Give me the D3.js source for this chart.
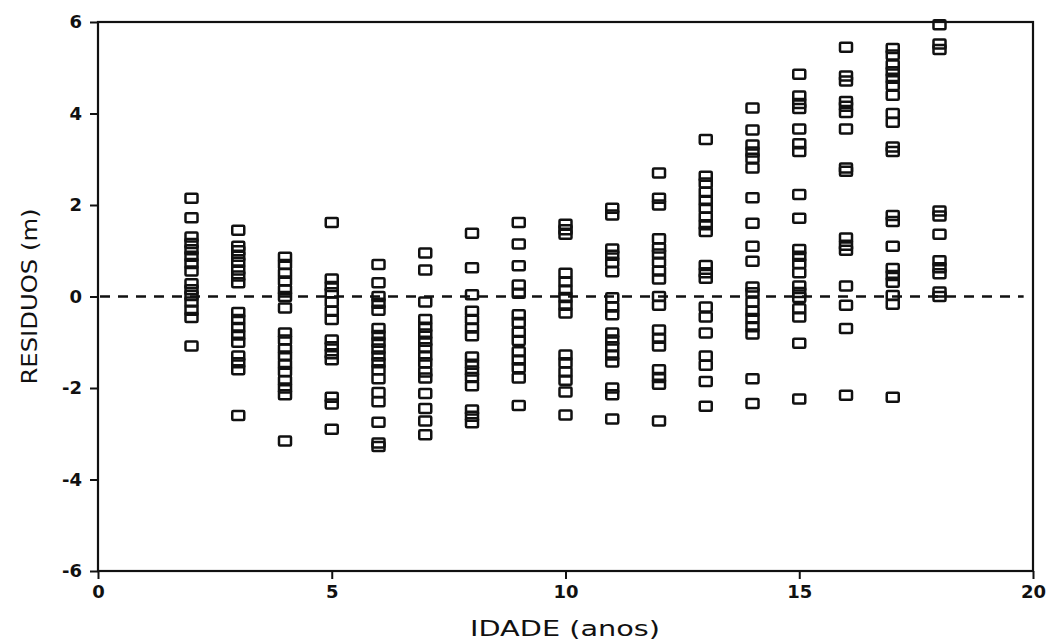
<!DOCTYPE html>
<html>
<head>
<meta charset="utf-8">
<script src="https://cdn.jsdelivr.net/npm/d3@7/dist/d3.min.js"></script>
<style>
  html, body { margin: 0; padding: 0; background: #fff; }
  svg { display: block; }
</style>
</head>
<body>
<svg id="chart" width="1050" height="642"></svg>
<script>
// idade (anos) de cada coluna de pontos
const ages = [2, 3, 4, 5, 6, 7, 8, 9, 10, 11, 12, 13, 14, 15, 16, 17, 18];

// residuos (m), uma lista por idade
const res2  = [2.15, 1.72, 1.30, 1.16, 1.02, 0.88, 0.72, 0.56, 0.28, 0.15, 0.02, -0.12, -0.30, -0.46, -1.08];
const res3  = [1.45, 1.10, 1.00, 0.88, 0.75, 0.58, 0.45, 0.30, -0.35, -0.50, -0.68, -0.84, -1.00, -1.30, -1.45, -1.60, -2.60];
const res4  = [0.86, 0.70, 0.51, 0.34, 0.15, 0.00, -0.25, -0.80, -0.95, -1.14, -1.30, -1.48, -1.64, -1.84, -2.00, -2.15, -3.16];
const res5  = [1.62, 0.38, 0.22, 0.08, -0.12, -0.32, -0.50, -0.95, -1.10, -1.25, -1.38, -2.20, -2.35, -2.90];
const res6  = [0.70, 0.30, 0.00, -0.15, -0.30, -0.70, -0.85, -1.00, -1.15, -1.30, -1.45, -1.60, -1.80, -2.10, -2.30, -2.75, -3.20, -3.28];
const res7  = [0.95, 0.58, -0.12, -0.50, -0.67, -0.82, -0.98, -1.12, -1.30, -1.45, -1.65, -1.78, -2.12, -2.45, -2.72, -3.02];
const res8  = [1.38, 0.63, 0.04, -0.32, -0.50, -0.69, -0.86, -1.32, -1.48, -1.63, -1.77, -1.95, -2.48, -2.62, -2.76];
const res9  = [1.62, 1.15, 0.67, 0.25, 0.07, -0.40, -0.57, -0.78, -0.96, -1.21, -1.39, -1.56, -1.78, -2.38];
const res10 = [1.58, 1.46, 1.36, 0.51, 0.32, 0.14, -0.02, -0.19, -0.36, -1.28, -1.45, -1.65, -1.83, -2.09, -2.59];
const res11 = [1.93, 1.78, 1.04, 0.90, 0.75, 0.54, -0.03, -0.23, -0.40, -0.80, -0.95, -1.10, -1.28, -1.43, -2.00, -2.15, -2.68];
const res12 = [2.70, 2.15, 2.00, 1.26, 1.06, 0.93, 0.75, 0.56, 0.38, 0.00, -0.19, -0.73, -0.91, -1.08, -1.60, -1.77, -1.92, -2.72];
const res13 = [3.43, 2.63, 2.48, 2.28, 2.10, 1.93, 1.74, 1.57, 1.42, 0.68, 0.52, 0.40, -0.23, -0.45, -0.80, -1.30, -1.50, -1.86, -2.40];
const res14 = [4.12, 3.64, 3.31, 3.16, 3.02, 2.81, 2.16, 1.60, 1.10, 0.77, 0.21, 0.08, -0.12, -0.32, -0.48, -0.66, -0.82, -1.80, -2.34];
const res15 = [4.86, 4.38, 4.22, 4.11, 3.66, 3.34, 3.17, 2.23, 1.71, 1.03, 0.88, 0.72, 0.52, 0.23, 0.09, -0.02, -0.27, -0.45, -1.02, -2.24];
const res16 = [5.45, 4.82, 4.71, 4.26, 4.16, 4.02, 3.66, 2.81, 2.74, 1.28, 1.12, 1.01, 0.23, -0.19, -0.70, -2.16];
const res17 = [5.42, 5.28, 5.06, 4.91, 4.77, 4.61, 4.40, 4.00, 3.81, 3.27, 3.17, 1.77, 1.64, 1.10, 0.61, 0.46, 0.31, 0.02, -0.17, -2.20];
const res18 = [5.94, 5.52, 5.40, 1.87, 1.76, 1.36, 0.78, 0.63, 0.50, 0.10, 0.00];

const residuals = [res2, res3, res4, res5, res6, res7, res8, res9, res10,
                   res11, res12, res13, res14, res15, res16, res17, res18];

const xTicks = [0, 5, 10, 15, 20];
const yTicks = [-6, -4, -2, 0, 2, 4, 6];

// plot box (pixels)
const boxLeft = 98, boxRight = 1033, boxTop = 22, boxBottom = 571;

const svg = d3.select("#chart");

const x = d3.scaleLinear().domain([0, 20]).range([boxLeft, boxRight]);
const y = d3.scaleLinear().domain([-6, 6]).range([boxBottom, boxTop]);

// flatten into points
const points = [];
ages.forEach(function(a, i) {
  residuals[i].forEach(function(r) { points.push({ age: a, res: r }); });
});

// frame
svg.append("rect")
  .attr("x", boxLeft).attr("y", boxTop)
  .attr("width", boxRight - boxLeft).attr("height", boxBottom - boxTop)
  .attr("fill", "none")
  .attr("stroke", "#111")
  .attr("stroke-width", 2.2);

// zero reference line
svg.append("line")
  .attr("x1", x(0) + 2).attr("x2", x(19.8))
  .attr("y1", y(0)).attr("y2", y(0))
  .attr("stroke", "#111")
  .attr("stroke-width", 2.6)
  .attr("stroke-dasharray", "10,8");

// axes
const xAxis = d3.axisBottom(x).tickValues(xTicks).tickSize(8).tickPadding(6)
  .tickFormat(d3.format("d"));
const yAxis = d3.axisLeft(y).tickValues(yTicks).tickSize(8).tickPadding(8)
  .tickFormat(function(d) { return d < 0 ? "-" + Math.abs(d) : d; });

const gx = svg.append("g").attr("transform", "translate(0," + boxBottom + ")").call(xAxis);
const gy = svg.append("g").attr("transform", "translate(" + boxLeft + ",0)").call(yAxis);

[gx, gy].forEach(function(g) {
  g.select(".domain").remove();
  g.selectAll(".tick line").attr("stroke", "#111").attr("stroke-width", 2);
  g.selectAll(".tick text")
    .attr("fill", "#111")
    .style("font-family", "'DejaVu Sans', sans-serif")
    .style("font-weight", "bold")
    .style("font-size", "18px");
});

// squares
const w = 12, h = 9;
svg.append("g").selectAll("rect")
  .data(points)
  .enter().append("rect")
    .attr("x", function(d) { return x(d.age) - w / 2; })
    .attr("y", function(d) { return y(d.res) - h / 2; })
    .attr("width", w)
    .attr("height", h)
    .attr("rx", 1)
    .attr("fill", "none")
    .attr("stroke", "#111")
    .attr("stroke-width", 2.5);

// axis titles
svg.append("text")
  .attr("x", 565).attr("y", 636)
  .attr("text-anchor", "middle")
  .attr("textLength", 190).attr("lengthAdjust", "spacingAndGlyphs")
  .style("font-family", "'DejaVu Sans', sans-serif")
  .style("font-size", "21px")
  .attr("fill", "#111")
  .text("IDADE (anos)");

svg.append("text")
  .attr("transform", "translate(37," + y(0) + ") rotate(-90)")
  .attr("text-anchor", "middle")
  .attr("textLength", 176).attr("lengthAdjust", "spacingAndGlyphs")
  .style("font-family", "'DejaVu Sans', sans-serif")
  .style("font-size", "21px")
  .attr("fill", "#111")
  .text("RESIDUOS (m)");
</script>
</body>
</html>
